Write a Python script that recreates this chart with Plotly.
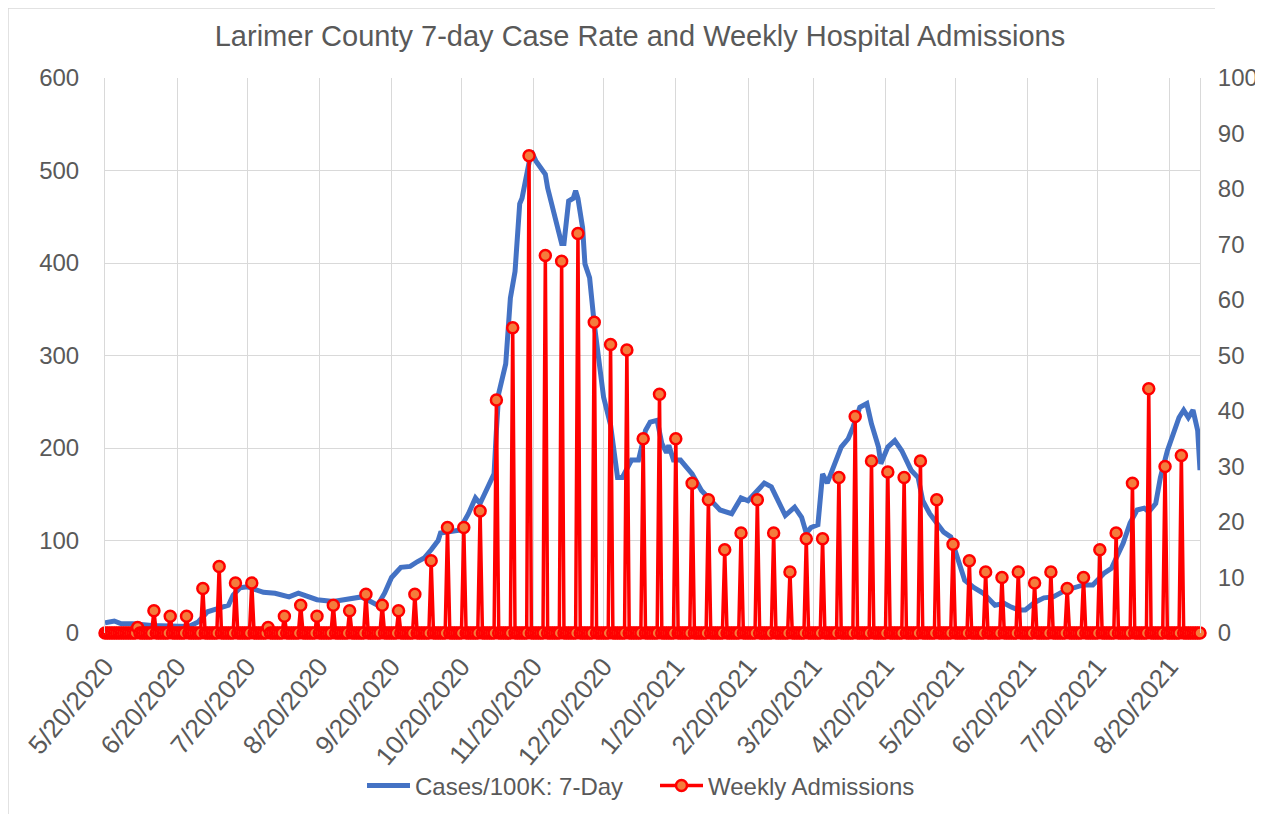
import pandas as pd
import plotly.graph_objects as go

# ---------------- data ----------------
case_dates = [
    "2020-05-20", "2020-05-24", "2020-05-27", "2020-06-01", "2020-06-09", "2020-06-16",
    "2020-06-25", "2020-06-29", "2020-07-03", "2020-07-07", "2020-07-12", "2020-07-14",
    "2020-07-17", "2020-07-20", "2020-07-25", "2020-07-27", "2020-08-01", "2020-08-07",
    "2020-08-11", "2020-08-15", "2020-08-19", "2020-08-26", "2020-09-01", "2020-09-07",
    "2020-09-11", "2020-09-14", "2020-09-17", "2020-09-20", "2020-09-24", "2020-09-28",
    "2020-10-01", "2020-10-04", "2020-10-07", "2020-10-10", "2020-10-11", "2020-10-19",
    "2020-10-23", "2020-10-26", "2020-10-28", "2020-10-31", "2020-11-03", "2020-11-04",
    "2020-11-05", "2020-11-08", "2020-11-10", "2020-11-12", "2020-11-14", "2020-11-15",
    "2020-11-18", "2020-11-19", "2020-11-21", "2020-11-23", "2020-11-25", "2020-11-26",
    "2020-11-28", "2020-11-30", "2020-12-02", "2020-12-03", "2020-12-05", "2020-12-07",
    "2020-12-08", "2020-12-09", "2020-12-11", "2020-12-12", "2020-12-14", "2020-12-16",
    "2020-12-18", "2020-12-20", "2020-12-23", "2020-12-26", "2020-12-28", "2021-01-01",
    "2021-01-04", "2021-01-05", "2021-01-07", "2021-01-09", "2021-01-12", "2021-01-14",
    "2021-01-16", "2021-01-17", "2021-01-19", "2021-01-22", "2021-01-27", "2021-01-31",
    "2021-02-04", "2021-02-08", "2021-02-13", "2021-02-17", "2021-02-20", "2021-02-23",
    "2021-02-27", "2021-03-02", "2021-03-05", "2021-03-08", "2021-03-12", "2021-03-15",
    "2021-03-17", "2021-03-19", "2021-03-22", "2021-03-24", "2021-03-26", "2021-03-29",
    "2021-04-01", "2021-04-04", "2021-04-06", "2021-04-09", "2021-04-12", "2021-04-14",
    "2021-04-17", "2021-04-18", "2021-04-21", "2021-04-24", "2021-04-27", "2021-05-01",
    "2021-05-04", "2021-05-06", "2021-05-09", "2021-05-12", "2021-05-15", "2021-05-18",
    "2021-05-21", "2021-05-24", "2021-05-28", "2021-06-01", "2021-06-06", "2021-06-10",
    "2021-06-13", "2021-06-16", "2021-06-19", "2021-06-23", "2021-06-27", "2021-07-01",
    "2021-07-06", "2021-07-10", "2021-07-14", "2021-07-18", "2021-07-23", "2021-07-26",
    "2021-07-29", "2021-07-31", "2021-08-03", "2021-08-06", "2021-08-09", "2021-08-11",
    "2021-08-14", "2021-08-16", "2021-08-19", "2021-08-21", "2021-08-24", "2021-08-26",
    "2021-08-28", "2021-08-30", "2021-09-01", "2021-09-02",
]
case_rate = [
    11, 13, 10, 10, 8, 8,
    7, 12, 23, 26, 30, 41,
    49, 50, 46, 44, 43, 39,
    43, 39, 36, 34, 37, 39,
    34, 30, 43, 60, 71, 72,
    77, 81, 90, 100, 108, 111,
    129, 146, 140, 157, 172, 219,
    259, 291, 362, 391, 464, 470,
    507, 521, 510, 503, 496, 481,
    460, 438, 421, 421, 467, 470,
    478, 470, 438, 399, 384, 334,
    291, 255, 225, 168, 168, 187,
    187, 197, 219, 228, 230, 205,
    195, 203, 187, 187, 172, 154,
    143, 133, 129, 146, 143, 151,
    162, 158, 143, 127, 136, 125,
    108, 114, 117, 172, 162, 183,
    201, 210, 222, 244, 248, 226,
    201, 183, 201, 208, 197, 176,
    168, 143, 129, 119, 109, 104,
    79, 57, 49, 43, 30, 32,
    28, 25, 25, 33, 38, 39,
    46, 49, 52, 52, 65, 70,
    86, 97, 119, 133, 135, 131,
    140, 168, 197, 211, 233, 241,
    233, 241, 219, 176,
]

series_start = "2020-05-20"
series_end = "2021-09-02"
first_admission_week = "2020-06-03"
weekly_admissions = [
    1, 4, 3, 3, 8, 12, 9, 9, 1, 3,
    5, 3, 5, 4, 7, 5, 4, 7, 13, 19,
    19, 22, 42, 55, 86, 68, 67, 72, 56, 52,
    51, 35, 43, 35, 27, 24, 15, 18, 24, 18,
    11, 17, 17, 28, 39, 31, 29, 28, 31, 24,
    16, 13, 11, 10, 11, 9, 11, 8, 10, 15,
    18, 27, 44, 30, 32,
]

tick_dates = [
    "2020-05-20", "2020-06-20", "2020-07-20", "2020-08-20", "2020-09-20", "2020-10-20",
    "2020-11-20", "2020-12-20", "2021-01-20", "2021-02-20", "2021-03-20", "2021-04-20",
    "2021-05-20", "2021-06-20", "2021-07-20", "2021-08-20",
]
tick_labels = [
    "5/20/2020", "6/20/2020", "7/20/2020", "8/20/2020", "9/20/2020", "10/20/2020",
    "11/20/2020", "12/20/2020", "1/20/2021", "2/20/2021", "3/20/2021", "4/20/2021",
    "5/20/2021", "6/20/2021", "7/20/2021", "8/20/2021",
]

# daily admissions series: zero on days without a weekly report
days = pd.date_range(series_start, series_end, freq="D")
admit_days = pd.date_range(first_admission_week, periods=len(weekly_admissions), freq="7D")
daily_admissions = pd.Series(0, index=days)
daily_admissions.loc[admit_days] = weekly_admissions

# ---------------- figure ----------------
# the page body has an 8px margin, so the figure is sized/positioned to compensate
W, H = 1255, 806
OFF = 8
FONT = "Liberation Sans, Arial, sans-serif"
GREY = "#595959"
GRID = "#d9d9d9"

L, R, T, B = 105 - OFF, W - (1200 - OFF), 78 - OFF, H - (633 - OFF)
PW, PH = W - L - R, H - T - B

fig = go.Figure()
fig.add_trace(go.Scatter(
    x=case_dates, y=case_rate, mode="lines", name="Cases/100K: 7-Day",
    line=dict(color="#4472c4", width=5), yaxis="y",
))
fig.add_trace(go.Scatter(
    x=daily_admissions.index, y=daily_admissions.values, mode="lines+markers",
    name="Weekly Admissions", yaxis="y2", cliponaxis=False,
    line=dict(color="#ff0000", width=3.5),
    marker=dict(size=11, color="#f47c3c", line=dict(color="#ff0000", width=2.5)),
))

fig.update_layout(
    template="none",
    width=W, height=H,
    margin=dict(l=L, r=R, t=T, b=B),
    paper_bgcolor="white", plot_bgcolor="white",
    font=dict(family=FONT, color=GREY, size=24),
    title=dict(
        text="Larimer County 7-day Case Rate and Weekly Hospital Admissions",
        font=dict(family=FONT, size=29, color=GREY),
        x=(640 - OFF) / W, xref="container", xanchor="center",
        y=1 - (36 - OFF) / H, yref="container", yanchor="middle",
    ),
    xaxis=dict(
        type="date", range=[series_start, series_end],
        tickvals=tick_dates, ticktext=tick_labels, tickangle=-50,
        tickfont=dict(size=26, color=GREY), ticklabelstandoff=12,
        showgrid=True, gridcolor=GRID, gridwidth=1,
        zeroline=False, showline=False, ticks="", automargin=False,
    ),
    yaxis=dict(
        range=[0, 600], dtick=100, tickfont=dict(size=24, color=GREY),
        showgrid=True, gridcolor=GRID, gridwidth=1, zeroline=False,
        showline=True, linecolor=GRID, linewidth=1, ticks="",
        ticklabelstandoff=20, automargin=False,
    ),
    yaxis2=dict(
        range=[0, 100], dtick=10, overlaying="y", side="right",
        tickfont=dict(size=24, color=GREY), showgrid=False, zeroline=False,
        showline=True, linecolor=GRID, linewidth=1, ticks="",
        ticklabelstandoff=12, automargin=False,
    ),
    legend=dict(
        orientation="h", xref="container", yref="container",
        x=(655 - OFF) / W, xanchor="center", y=1 - (786 - OFF) / H, yanchor="middle",
        font=dict(size=24, color=GREY), bgcolor="rgba(0,0,0,0)",
        itemwidth=43, entrywidth=235,
    ),
    showlegend=True,
    shapes=[
        dict(type="line", xref="paper", yref="paper",
             x0=-L / PW, x1=-L / PW, y0=1 + T / PH, y1=-B / PH,
             line=dict(color=GRID, width=1.5)),
        dict(type="line", xref="paper", yref="paper",
             x0=-L / PW, x1=(1215 - 105) / PW, y0=1 + T / PH, y1=1 + T / PH,
             line=dict(color=GRID, width=1.5)),
    ],
)

fig.write_html("out.html")
